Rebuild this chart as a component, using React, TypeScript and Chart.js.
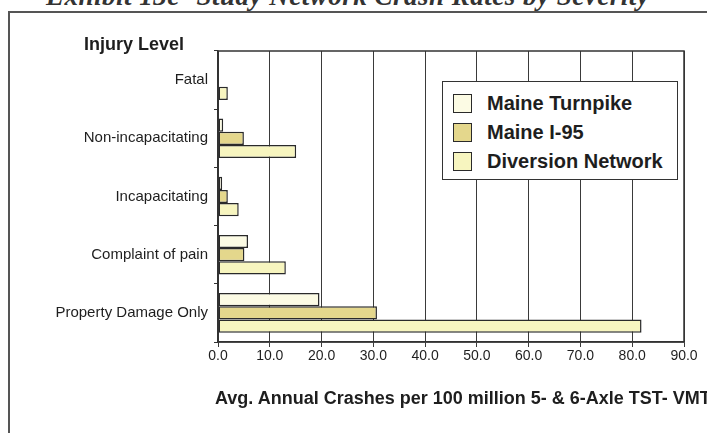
import React, { useEffect, useRef } from "react";
import { Chart, registerables } from "chart.js";

Chart.register(...registerables);

const categories = [
  "Fatal",
  "Non-incapacitating",
  "Incapacitating",
  "Complaint of pain",
  "Property Damage Only",
];
const seriesNames = ["Maine Turnpike", "Maine I-95", "Diversion Network"];
const turnpikeValues = [0, 1.0, 0.8, 5.8, 19.6];
const i95Values = [0, 5.0, 1.9, 5.1, 30.7];
const diversionValues = [1.9, 15.1, 4.0, 13.1, 81.8];
const xMin = 0;
const xMax = 90;
const xStep = 10;
const seriesColors = ["#fcfbe4", "#e4d78c", "#f7f5bf"];
const xAxisTitle = "Avg. Annual Crashes per 100 million 5- & 6-Axle TST- VMT";
const yAxisTitle = "Injury Level";
const pageTitle = "Exhibit 13e- Study Network Crash Rates by Severity";

const SANS = '"Liberation Sans", Arial, sans-serif';
const INK = "#1e1e1e";

const frameBorder = {
  id: "frameBorder",
  afterDraw(chart: any) {
    const { ctx, chartArea } = chart;
    ctx.save();
    ctx.strokeStyle = "#333333";
    ctx.lineWidth = 1.5;
    ctx.strokeRect(chartArea.left, chartArea.top, chartArea.right - chartArea.left, chartArea.bottom - chartArea.top);
    ctx.restore();
  },
};

export default function App() {
  const canvasRef = useRef<HTMLCanvasElement | null>(null);

  useEffect(() => {
    document.body.style.margin = "0";
    const canvas = canvasRef.current;
    if (!canvas) return;
    const valuesList = [turnpikeValues, i95Values, diversionValues];
    const chart = new Chart(canvas, {
      type: "bar",
      data: {
        labels: categories,
        datasets: seriesNames.map((name, i) => ({
          label: name,
          data: valuesList[i],
          backgroundColor: seriesColors[i],
          borderColor: "#2a2a2a",
          borderWidth: 1.5,
          borderSkipped: false,
          barPercentage: 1.0,
          categoryPercentage: 0.68,
        })),
      },
      options: {
        indexAxis: "y",
        responsive: false,
        animation: false,
        devicePixelRatio: 1,
        layout: { padding: { left: 0, right: 23, top: 51, bottom: 0 } },
        plugins: {
          legend: { display: false },
          tooltip: { enabled: false },
          title: { display: false },
        },
        scales: {
          x: {
            type: "linear",
            min: xMin,
            max: xMax,
            afterFit: (scale: any) => {
              scale.height = 91;
            },
            ticks: {
              stepSize: xStep,
              padding: 1,
              color: INK,
              font: { family: SANS, size: 14 },
              callback: (v: any) => Number(v).toFixed(1),
            },
            grid: {
              color: "#3a3a3a",
              lineWidth: 1,
              tickLength: 5,
              drawTicks: true,
            },
            border: { color: "#333333", width: 1.5 },
            title: { display: false },
          },
          y: {
            type: "category",
            offset: true,
            afterFit: (scale: any) => {
              scale.width = 218;
            },
            ticks: {
              padding: 6,
              color: INK,
              font: { family: SANS, size: 15 },
            },
            grid: {
              offset: true,
              drawOnChartArea: false,
              drawTicks: true,
              tickLength: 4,
              color: "#333333",
            },
            border: { color: "#333333", width: 1.5 },
          },
        },
      } as any,
      plugins: [frameBorder],
    });
    return () => chart.destroy();
  }, []);

  const legendItems = seriesNames.map((name, i) => (
    <div
      key={name}
      style={{
        position: "absolute",
        left: 10,
        top: 10 + i * 29,
        height: 22,
        display: "flex",
        alignItems: "center",
      }}
    >
      <div
        style={{
          width: 19,
          height: 19,
          boxSizing: "border-box",
          border: "1.5px solid #2a2a2a",
          background: seriesColors[i],
        }}
      />
      <span
        style={{
          marginLeft: 15,
          font: `bold 20px ${SANS}`,
          color: INK,
          whiteSpace: "nowrap",
        }}
      >
        {name}
      </span>
    </div>
  ));

  return (
    <div style={{ position: "relative", width: 707, height: 433, overflow: "hidden", background: "#ffffff" }}>
      <div
        style={{
          position: "absolute",
          left: 46,
          top: -17,
          font: `italic bold 27px "Liberation Serif", "Times New Roman", serif`,
          lineHeight: "27px",
          color: "#333",
          whiteSpace: "nowrap",
          letterSpacing: 0.5,
        }}
      >
        {pageTitle}
      </div>
      <div
        style={{
          position: "absolute",
          left: 8,
          top: 11,
          width: 720,
          height: 440,
          borderLeft: "2px solid #555",
          borderTop: "2px solid #555",
        }}
      />
      <canvas ref={canvasRef} width={707} height={433} style={{ position: "absolute", left: 0, top: 0 }} />
      <div
        style={{
          position: "absolute",
          left: 84,
          top: 34,
          font: `bold 18px ${SANS}`,
          color: INK,
          whiteSpace: "nowrap",
        }}
      >
        {yAxisTitle}
      </div>
      <div
        style={{
          position: "absolute",
          left: 215,
          top: 386,
          font: `bold 18px ${SANS}`,
          lineHeight: "24px",
          color: INK,
          whiteSpace: "nowrap",
        }}
      >
        {xAxisTitle}
      </div>
      <div
        style={{
          position: "absolute",
          left: 442,
          top: 81,
          width: 236,
          height: 99,
          boxSizing: "border-box",
          border: "1.5px solid #333",
          background: "#ffffff",
        }}
      >
        {legendItems}
      </div>
    </div>
  );
}
